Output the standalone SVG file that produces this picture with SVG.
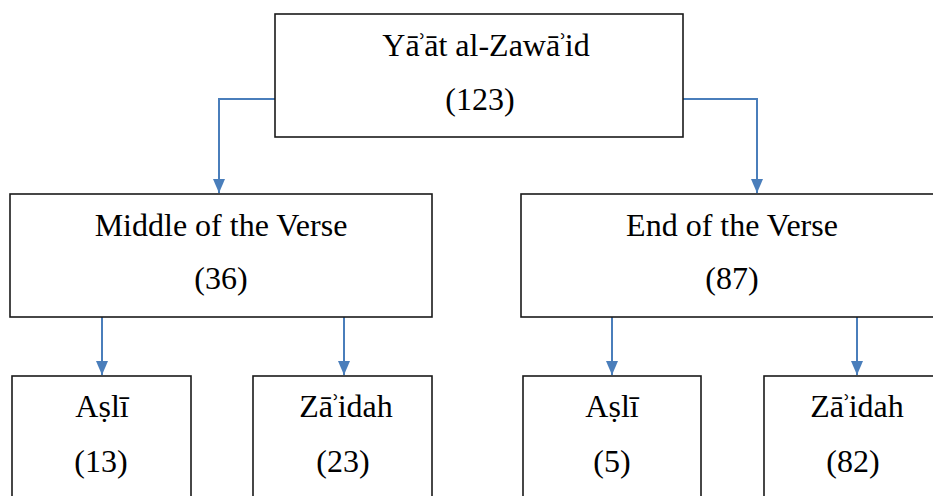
<svg xmlns="http://www.w3.org/2000/svg" width="933" height="496" viewBox="0 0 933 496">
<style>
.box{fill:#fff;stroke:#1a1a1a;stroke-width:1.6}
.c{fill:none;stroke:#4a7ebb;stroke-width:2}
</style>
<defs>
<marker id="ah" viewBox="0 0 14 12" refX="14" refY="6" markerWidth="14" markerHeight="12" markerUnits="userSpaceOnUse" orient="auto">
<path d="M0,0 L14,6 L0,12 Z" fill="#4a7ebb"/>
</marker>
</defs>
<rect width="933" height="496" fill="#fff"/>
<g id="connectors">
<path class="c" d="M275,99 H219 V193" marker-end="url(#ah)"/>
<path class="c" d="M683,99 H757 V193" marker-end="url(#ah)"/>
<path class="c" d="M102,317 V375" marker-end="url(#ah)"/>
<path class="c" d="M344,317 V375" marker-end="url(#ah)"/>
<path class="c" d="M612,317 V375" marker-end="url(#ah)"/>
<path class="c" d="M857,317 V375" marker-end="url(#ah)"/>
</g>
<g font-family="Liberation Serif, DejaVu Serif, serif" font-size="32" fill="#000" text-anchor="middle">
<g id="root">
<rect class="box" x="275" y="14" width="408" height="123"/>
<text x="486" y="56">Yā<tspan dx="-3">ʾ</tspan><tspan dx="-3">āt al-Zawā</tspan><tspan dx="-3">ʾ</tspan><tspan dx="-3">id</tspan></text>
<text x="480" y="110">(123)</text>
</g>
<g id="middle">
<rect class="box" x="10" y="194" width="422" height="123"/>
<text x="221" y="236">Middle of the Verse</text>
<text x="221" y="289">(36)</text>
</g>
<g id="end">
<rect class="box" x="521" y="194" width="422" height="123"/>
<text x="732" y="236">End of the Verse</text>
<text x="732" y="289">(87)</text>
</g>
<g id="mid-asli">
<rect class="box" x="12" y="376" width="179" height="130"/>
<text x="102" y="417">Aṣlī</text>
<text x="101" y="472">(13)</text>
</g>
<g id="mid-zaidah">
<rect class="box" x="253" y="376" width="179" height="130"/>
<text x="346" y="417">Zā<tspan dx="-3">ʾ</tspan><tspan dx="-3">idah</tspan></text>
<text x="343" y="472">(23)</text>
</g>
<g id="end-asli">
<rect class="box" x="523" y="376" width="178" height="130"/>
<text x="612" y="417">Aṣlī</text>
<text x="612" y="472">(5)</text>
</g>
<g id="end-zaidah">
<rect class="box" x="764" y="376" width="186" height="130"/>
<text x="857" y="417">Zā<tspan dx="-3">ʾ</tspan><tspan dx="-3">idah</tspan></text>
<text x="853" y="472">(82)</text>
</g>
</g>
</svg>
